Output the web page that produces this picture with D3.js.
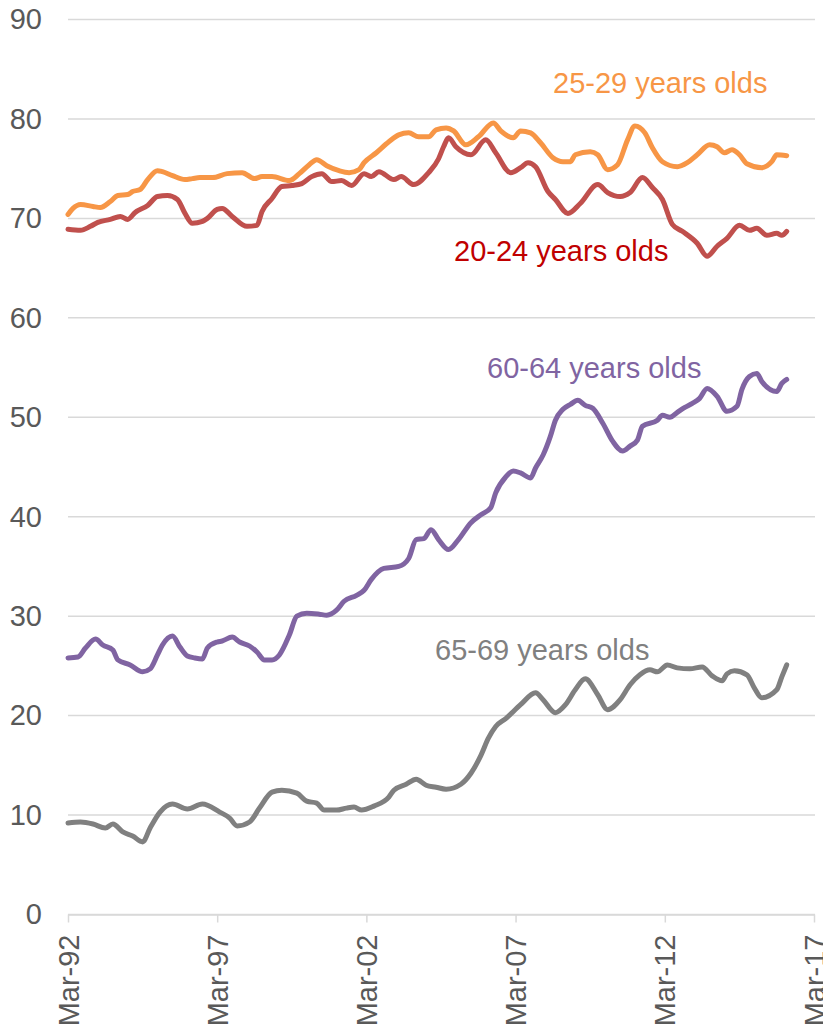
<!DOCTYPE html>
<html>
<head>
<meta charset="utf-8">
<script src="https://cdn.jsdelivr.net/npm/d3@7"></script>
<style>
  body { margin: 0; background: #fff; }
  text { font-family: "Liberation Sans", Arial, sans-serif; }
</style>
</head>
<body>
<div id="chart"></div>
<script>
// set the dimensions and margins of the graph
const margin = { top: 19.5, right: 8, bottom: 111.5, left: 68 },
  width = 823 - margin.left - margin.right,
  height = 1026 - margin.top - margin.bottom;

// tick labels
const xTicks = ["1992-03", "1997-03", "2002-03", "2007-03", "2012-03", "2017-03"];
const yTicks = [0, 10, 20, 30, 40, 50, 60, 70, 80, 90];

// series names
const seriesNames = ["25-29 years olds", "20-24 years olds", "60-64 years olds", "65-69 years olds"];

// series values [month, rate]
const age2529 = [
  ["1992-03", 70.4], ["1992-05", 71.0], ["1992-08", 71.4], ["1993-01", 71.2], ["1993-04", 71.1],
  ["1993-08", 71.7], ["1993-11", 72.3], ["1994-03", 72.4], ["1994-05", 72.7], ["1994-08", 72.9],
  ["1994-11", 73.9], ["1995-03", 74.8], ["1995-05", 74.7], ["1995-09", 74.3], ["1996-02", 73.9],
  ["1996-05", 74.0], ["1996-08", 74.1], ["1997-01", 74.1], ["1997-07", 74.5], ["1998-01", 74.6],
  ["1998-06", 74.0], ["1998-09", 74.2], ["1999-01", 74.2], ["1999-08", 73.8], ["1999-12", 74.5],
  ["2000-04", 75.4], ["2000-07", 75.9], ["2000-11", 75.3], ["2001-04", 74.8], ["2001-08", 74.6],
  ["2001-12", 74.9], ["2002-02", 75.6], ["2002-07", 76.6], ["2002-12", 77.7], ["2003-04", 78.4],
  ["2003-08", 78.6], ["2003-12", 78.2], ["2004-04", 78.2], ["2004-07", 78.9], ["2004-11", 79.1],
  ["2005-02", 78.8], ["2005-07", 77.4], ["2005-12", 78.2], ["2006-06", 79.6], ["2006-09", 78.8],
  ["2007-02", 78.1], ["2007-05", 78.8], ["2007-09", 78.6], ["2008-01", 77.6], ["2008-06", 76.1],
  ["2008-10", 75.7], ["2009-01", 75.7], ["2009-03", 76.4], ["2009-09", 76.7], ["2009-12", 76.4],
  ["2010-04", 74.9], ["2010-08", 75.4], ["2010-12", 77.9], ["2011-03", 79.3], ["2011-07", 78.6],
  ["2011-10", 77.1], ["2012-02", 75.7], ["2012-08", 75.2], ["2012-12", 75.6], ["2013-04", 76.4],
  ["2013-09", 77.4], ["2013-12", 77.2], ["2014-03", 76.6], ["2014-06", 76.9], ["2014-09", 76.4],
  ["2014-12", 75.5], ["2015-06", 75.1], ["2015-10", 75.7], ["2015-12", 76.4], ["2016-04", 76.3]
];

const age2024 = [
  ["1992-03", 68.9], ["1992-08", 68.8], ["1992-12", 69.2], ["1993-03", 69.6], ["1993-08", 69.9],
  ["1993-12", 70.2], ["1994-03", 69.9], ["1994-06", 70.6], ["1994-11", 71.3], ["1995-03", 72.2],
  ["1995-07", 72.3], ["1995-11", 71.9], ["1996-02", 70.5], ["1996-05", 69.5], ["1996-09", 69.7],
  ["1996-11", 70.0], ["1997-03", 70.9], ["1997-05", 71.0], ["1997-09", 70.2], ["1998-03", 69.2],
  ["1998-07", 69.3], ["1998-09", 70.7], ["1999-01", 72.0], ["1999-05", 73.2], ["1999-09", 73.3],
  ["2000-01", 73.5], ["2000-05", 74.2], ["2000-09", 74.5], ["2001-01", 73.7], ["2001-05", 73.8],
  ["2001-09", 73.3], ["2002-02", 74.5], ["2002-05", 74.2], ["2002-08", 74.7], ["2003-02", 73.9],
  ["2003-05", 74.2], ["2003-10", 73.4], ["2004-04", 74.6], ["2004-08", 76.0], ["2004-10", 77.2],
  ["2004-12", 78.1], ["2005-03", 77.2], ["2005-09", 76.4], ["2006-03", 77.9], ["2006-07", 76.6],
  ["2007-01", 74.6], ["2007-05", 75.1], ["2007-08", 75.6], ["2007-11", 75.2], ["2008-04", 72.7],
  ["2008-07", 71.9], ["2008-12", 70.5], ["2009-05", 71.5], ["2009-12", 73.4], ["2010-04", 72.6],
  ["2010-09", 72.2], ["2011-01", 72.6], ["2011-06", 74.1], ["2011-10", 73.1], ["2012-02", 71.9],
  ["2012-06", 69.4], ["2012-10", 68.7], ["2013-04", 67.5], ["2013-08", 66.2], ["2013-12", 67.2],
  ["2014-04", 68.0], ["2014-09", 69.3], ["2015-01", 68.8], ["2015-04", 69.0], ["2015-08", 68.3],
  ["2015-12", 68.5], ["2016-02", 68.3], ["2016-04", 68.7]
];

const age6064 = [
  ["1992-03", 25.8], ["1992-07", 25.9], ["1992-10", 26.8], ["1993-02", 27.7], ["1993-05", 27.1],
  ["1993-09", 26.6], ["1993-11", 25.6], ["1994-04", 25.1], ["1994-09", 24.4], ["1994-12", 24.7],
  ["1995-03", 26.1], ["1995-05", 27.1], ["1995-09", 28.0], ["1995-12", 26.9], ["1996-03", 26.0],
  ["1996-06", 25.8], ["1996-09", 25.7], ["1996-11", 26.8], ["1997-03", 27.4], ["1997-05", 27.5],
  ["1997-09", 27.9], ["1997-12", 27.4], ["1998-04", 27.0], ["1998-07", 26.4], ["1998-10", 25.6],
  ["1999-01", 25.6], ["1999-04", 26.1], ["1999-08", 28.1], ["1999-11", 30.0], ["2000-03", 30.3],
  ["2000-08", 30.2], ["2000-11", 30.1], ["2001-03", 30.6], ["2001-06", 31.5], ["2001-11", 32.1],
  ["2002-02", 32.6], ["2002-05", 33.7], ["2002-10", 34.8], ["2003-04", 35.0], ["2003-08", 35.8],
  ["2003-11", 37.7], ["2004-02", 37.8], ["2004-05", 38.7], ["2004-08", 37.7], ["2004-12", 36.7],
  ["2005-04", 37.7], ["2005-09", 39.4], ["2006-01", 40.2], ["2006-05", 40.9], ["2006-07", 42.4],
  ["2006-11", 44.0], ["2007-02", 44.6], ["2007-05", 44.4], ["2007-09", 43.9], ["2007-11", 44.9],
  ["2008-02", 46.2], ["2008-05", 48.1], ["2008-07", 49.7], ["2008-10", 50.8], ["2009-01", 51.3],
  ["2009-04", 51.7], ["2009-07", 51.2], ["2009-10", 50.9], ["2010-02", 49.4], ["2010-06", 47.6],
  ["2010-10", 46.6], ["2011-01", 47.1], ["2011-04", 47.7], ["2011-06", 49.1], ["2011-12", 49.7],
  ["2012-02", 50.2], ["2012-05", 50.0], ["2012-08", 50.5], ["2012-11", 51.0], ["2013-02", 51.4],
  ["2013-05", 51.9], ["2013-08", 52.9], ["2013-12", 52.1], ["2014-04", 50.6], ["2014-08", 51.1],
  ["2014-10", 52.8], ["2015-01", 54.1], ["2015-04", 54.4], ["2015-06", 53.6], ["2015-12", 52.6],
  ["2016-02", 53.4], ["2016-04", 53.8]
];

const age6569 = [
  ["1992-03", 9.2], ["1992-08", 9.3], ["1993-01", 9.1], ["1993-06", 8.7], ["1993-09", 9.1],
  ["1994-01", 8.3], ["1994-05", 7.9], ["1994-09", 7.3], ["1994-12", 8.7], ["1995-04", 10.3],
  ["1995-09", 11.1], ["1996-03", 10.6], ["1996-09", 11.1], ["1997-04", 10.3], ["1997-08", 9.7],
  ["1997-11", 8.9], ["1998-04", 9.3], ["1998-08", 10.7], ["1999-01", 12.3], ["1999-05", 12.5],
  ["1999-11", 12.2], ["2000-03", 11.4], ["2000-07", 11.2], ["2000-10", 10.5], ["2001-03", 10.5],
  ["2001-07", 10.7], ["2001-10", 10.8], ["2002-01", 10.5], ["2002-06", 10.9], ["2002-12", 11.8],
  ["2003-02", 12.5], ["2003-07", 13.1], ["2003-11", 13.6], ["2004-03", 13.0], ["2004-07", 12.8],
  ["2004-11", 12.6], ["2005-05", 13.1], ["2005-09", 14.2], ["2006-01", 16.0], ["2006-04", 17.7],
  ["2006-07", 18.9], ["2006-11", 19.7], ["2007-05", 21.1], ["2007-11", 22.3], ["2008-02", 21.6],
  ["2008-07", 20.3], ["2008-11", 21.1], ["2009-03", 22.6], ["2009-07", 23.7], ["2009-12", 22.1],
  ["2010-04", 20.6], ["2010-09", 21.6], ["2011-01", 23.1], ["2011-05", 24.1], ["2011-09", 24.6],
  ["2011-12", 24.4], ["2012-04", 25.1], ["2012-08", 24.8], ["2013-01", 24.7], ["2013-06", 24.9],
  ["2013-10", 24.0], ["2014-02", 23.5], ["2014-04", 24.2], ["2014-07", 24.5], ["2014-12", 24.1],
  ["2015-03", 22.8], ["2015-06", 21.8], ["2015-12", 22.6], ["2016-02", 23.9], ["2016-04", 25.1]
];

const parseMonth = d3.timeParse("%Y-%m");

const series = [
  { name: seriesNames[0], values: age2529, color: "#F79646", labelColor: "#F79646", lx: 553, ly: 93 },
  { name: seriesNames[1], values: age2024, color: "#C0504D", labelColor: "#C00000", lx: 454, ly: 261 },
  { name: seriesNames[2], values: age6064, color: "#8064A2", labelColor: "#8064A2", lx: 487, ly: 378 },
  { name: seriesNames[3], values: age6569, color: "#808080", labelColor: "#808080", lx: 435, ly: 660 }
];

const svg = d3.select("#chart")
  .append("svg")
  .attr("width", 823)
  .attr("height", 1026);

const g = svg.append("g")
  .attr("transform", `translate(${margin.left},${margin.top})`);

// X axis (time)
const x = d3.scaleTime()
  .domain([parseMonth("1992-03"), parseMonth("2017-03")])
  .range([0, width - 1]);

// Y axis
const y = d3.scaleLinear()
  .domain([0, 90])
  .range([height, 0]);

// gridlines
g.append("g")
  .selectAll("line")
  .data(yTicks)
  .join("line")
  .attr("x1", 0)
  .attr("x2", width)
  .attr("y1", d => y(d))
  .attr("y2", d => y(d))
  .attr("stroke", "#D9D9D9")
  .attr("stroke-width", 1.5);

// y tick labels
g.append("g")
  .call(d3.axisLeft(y).tickValues(yTicks).tickSize(0).tickPadding(26))
  .call(a => a.select(".domain").remove())
  .selectAll("text")
  .attr("fill", "#595959")
  .style("font-size", "29px")
  .style("font-family", "'Liberation Sans', Arial, sans-serif");

// x axis with rotated labels
const xAxis = g.append("g")
  .attr("transform", `translate(0,${height})`)
  .call(d3.axisBottom(x)
    .tickValues(xTicks.map(parseMonth))
    .tickFormat(d3.timeFormat("%b-%y"))
    .tickSize(8)
    .tickSizeOuter(0));

xAxis.select(".domain").attr("stroke", "#D9D9D9").attr("stroke-width", 1.5);
xAxis.selectAll(".tick line").attr("stroke", "#D9D9D9").attr("stroke-width", 1.5);
xAxis.selectAll("text")
  .attr("fill", "#595959")
  .style("font-size", "29px")
  .style("font-family", "'Liberation Sans', Arial, sans-serif")
  .attr("text-anchor", "end")
  .attr("transform", "rotate(-90)")
  .attr("x", -20)
  .attr("y", 0)
  .attr("dy", "0.35em");

// the lines
const line = d3.line()
  .x(d => x(parseMonth(d[0])))
  .y(d => y(d[1]))
  .curve(d3.curveMonotoneX);

g.append("g")
  .selectAll("path")
  .data(series)
  .join("path")
  .attr("fill", "none")
  .attr("stroke", d => d.color)
  .attr("stroke-width", 5)
  .attr("stroke-linejoin", "round")
  .attr("stroke-linecap", "round")
  .attr("d", d => line(d.values));

// series labels
svg.append("g")
  .selectAll("text")
  .data(series)
  .join("text")
  .attr("x", d => d.lx)
  .attr("y", d => d.ly)
  .attr("fill", d => d.labelColor)
  .style("font-size", "29px")
  .text(d => d.name);
</script>
</body>
</html>
